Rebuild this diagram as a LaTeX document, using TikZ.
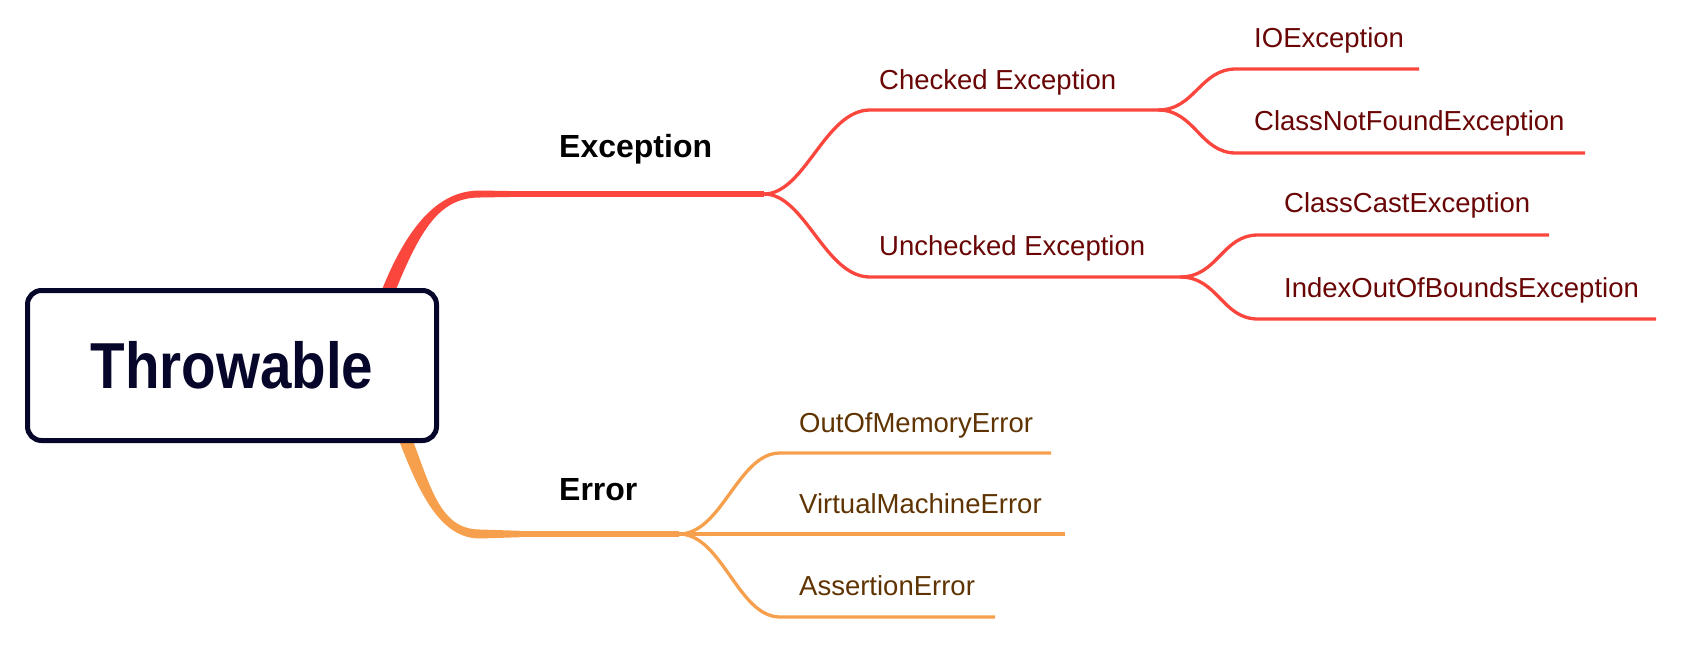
\documentclass[tikz,border=0pt]{standalone}
\usepackage{fontspec}
\setmainfont{Liberation Sans}
\definecolor{exred}{RGB}{250,70,60}
\definecolor{erorange}{RGB}{246,160,77}
\definecolor{redtext}{RGB}{105,5,5}
\definecolor{orangetext}{RGB}{95,52,2}
\definecolor{navy}{RGB}{6,6,42}
\tikzset{
  rootbox/.style={draw=navy, line width=5pt, rounded corners=14pt, fill=white,
    minimum width=409pt, minimum height=150pt, inner sep=0pt, text=navy,
    font=\fontsize{65}{72}\selectfont\bfseries},
  mainlabel/.style={anchor=base west, inner sep=0pt, text=black,
    font=\fontsize{32}{38}\selectfont\bfseries},
  redlabel/.style={anchor=base west, inner sep=0pt, text=redtext,
    font=\fontsize{27.5}{33}\selectfont},
  orangelabel/.style={anchor=base west, inner sep=0pt, text=orangetext,
    font=\fontsize{27.5}{33}\selectfont},
  redbr/.style={draw=exred, line width=3.3pt},
  orangebr/.style={draw=erorange, line width=3.3pt},
}
\begin{document}
\begin{tikzpicture}[x=1pt,y=-1pt]
\useasboundingbox (0,0) rectangle (1682,646);
% fork points
\coordinate (exstart) at (515,194);
\coordinate (exfork) at (764,194);
\coordinate (erstart) at (515,534);
\coordinate (erfork) at (679,534);
\coordinate (ckfork) at (1158,110);
\coordinate (ucfork) at (1180,277);
\coordinate (ioend) at (1419,69);
\coordinate (cnfend) at (1585,153);
\coordinate (ccend) at (1549,235);
\coordinate (ioobend) at (1656,319);
\coordinate (oomend) at (1051,453);
\coordinate (vmend) at (1065,534);
\coordinate (asend) at (995,617);
% thick main branches (tapered)
\fill[exred] (382,289.6) .. controls (409,222.6) and (440,190.5) .. (480,190.5)
  -- (520,191.2) -- (520,196.8) -- (480,197.5)
  .. controls (440,197.5) and (421,227.4) .. (394,294.4) -- cycle;
\draw[draw=exred, line width=5.5pt] (exstart) -- (exfork);
\fill[erorange] (399,440.4) .. controls (419,492.4) and (440,538.5) .. (480,538.5)
  -- (520,537.2) -- (520,530.8) -- (480,529.5)
  .. controls (440,529.5) and (431,487.6) .. (411,435.6) -- cycle;
\draw[draw=erorange, line width=6pt] (erstart) -- (erfork);
% exception sub-branches
\draw[redbr] (exfork) .. controls (805,194) and (825,110) .. (870,110) -- (ckfork);
\draw[redbr] (exfork) .. controls (805,194) and (825,277) .. (870,277) -- (ucfork);
\draw[redbr] (ckfork) .. controls (1195,110) and (1200,69) .. (1236,69) -- (ioend);
\draw[redbr] (ckfork) .. controls (1195,110) and (1200,153) .. (1236,153) -- (cnfend);
\draw[redbr] (ucfork) .. controls (1218,277) and (1222,235) .. (1258,235) -- (ccend);
\draw[redbr] (ucfork) .. controls (1218,277) and (1222,319) .. (1258,319) -- (ioobend);
% error sub-branches
\draw[orangebr] (erfork) .. controls (722,534) and (738,453) .. (780,453) -- (oomend);
\draw[orangebr] (erfork) -- (vmend);
\draw[orangebr] (erfork) .. controls (722,534) and (738,617) .. (780,617) -- (asend);
% root
\node[rootbox] (root) at (232,365.5) {\scalebox{0.87}[1]{Throwable}};
% labels
\node[mainlabel] (exc) at (559,157) {Exception};
\node[mainlabel] (err) at (559,500) {Error};
\node[redlabel] (checked) at (879,89) {Checked Exception};
\node[redlabel] (unchecked) at (879,255) {Unchecked Exception};
\node[redlabel] (io) at (1254,47) {IOException};
\node[redlabel] (cnf) at (1254,130) {ClassNotFoundException};
\node[redlabel] (cc) at (1284,212) {ClassCastException};
\node[redlabel] (ioob) at (1284,297) {IndexOutOfBoundsException};
\node[orangelabel] (oom) at (799,432) {OutOfMemoryError};
\node[orangelabel] (vm) at (799,513) {VirtualMachineError};
\node[orangelabel] (as) at (799,595) {AssertionError};
\end{tikzpicture}
\end{document}
